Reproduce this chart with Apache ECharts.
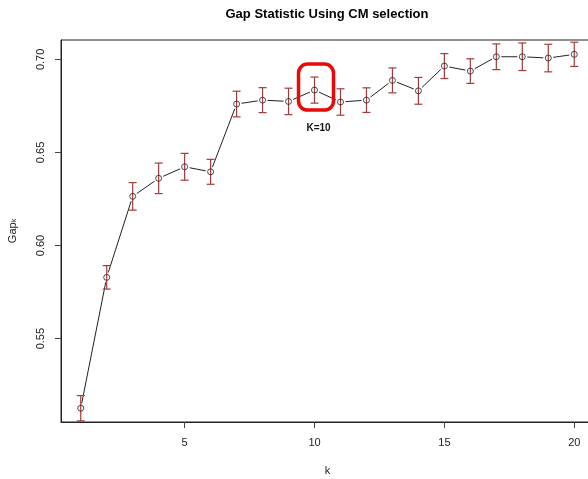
<!DOCTYPE html>
<html>
<head>
<meta charset="utf-8">
<script src="https://cdn.jsdelivr.net/npm/echarts@6/dist/echarts.min.js"></script>
<style>
  html, body { margin: 0; padding: 0; background: #fff; }
  #chart { width: 588px; height: 479px; }
</style>
</head>
<body>
<div id="chart"></div>
<script>
// Number of clusters k
const kValues = [1, 2, 3, 4, 5, 6, 7, 8, 9, 10, 11, 12, 13, 14, 15, 16, 17, 18, 19, 20];
// Gap statistic for each k
const gapValues = [0.5126, 0.5829, 0.6264, 0.6361, 0.6423, 0.6396, 0.6760, 0.6781, 0.6774, 0.6835,
                   0.6771, 0.6781, 0.6887, 0.6831, 0.6964, 0.6937, 0.7014, 0.7014, 0.7007, 0.7027];
// Standard error of the gap for each k
const gapSE = [0.0068, 0.0063, 0.0074, 0.0082, 0.0072, 0.0067, 0.0069, 0.0067, 0.0071, 0.0070,
               0.0071, 0.0066, 0.0067, 0.0072, 0.0067, 0.0066, 0.0069, 0.0074, 0.0074, 0.0065];
// Axis tick labels
const xTicks = [5, 10, 15, 20];
const yTicks = [0.55, 0.60, 0.65, 0.70];
// Selected number of clusters
const selectedK = 10;

const FONT = '"Liberation Sans", Arial, sans-serif';
const BAR_COLOR = '#a23b3b';
const LINE_COLOR = '#222';

const errData = kValues.map((k, i) => [k, gapValues[i] - gapSE[i], gapValues[i] + gapSE[i]]);
const pointData = kValues.map((k, i) => [k, gapValues[i]]);
const segData = kValues.slice(0, -1).map((k, i) => [k, gapValues[i], kValues[i + 1], gapValues[i + 1]]);
const selIdx = kValues.indexOf(selectedK);

const chart = echarts.init(document.getElementById('chart'), null, { renderer: 'canvas' });

chart.setOption({
  animation: false,
  backgroundColor: '#fff',
  graphic: [{
    type: 'text',
    x: 327, y: 14,
    style: {
      text: 'Gap Statistic Using CM selection',
      font: 'bold 13px ' + FONT,
      fill: '#000',
      textAlign: 'center',
      textVerticalAlign: 'middle'
    }
  }],
  grid: {
    left: 61, top: 40, right: -6, bottom: 57,
    outerBoundsMode: 'none',
    containLabel: false,
    show: true, borderColor: '#222', borderWidth: 1, backgroundColor: 'transparent'
  },
  xAxis: {
    type: 'value',
    min: 0.24, max: 20.76,
    name: 'k',
    nameLocation: 'middle',
    nameGap: 43,
    nameTextStyle: { fontFamily: FONT, fontSize: 11, color: '#222' },
    splitLine: { show: false },
    axisLine: { show: true, lineStyle: { color: '#222', width: 1 } },
    axisTick: { show: true, length: 6, lineStyle: { color: '#444' }, customValues: xTicks },
    axisLabel: {
      customValues: xTicks, margin: 15,
      fontFamily: FONT, fontSize: 11, color: '#222',
      formatter: v => String(v)
    }
  },
  yAxis: {
    type: 'value',
    min: 0.5052, max: 0.7104,
    name: '{g|Gap}{s|k}',
    nameLocation: 'middle',
    nameRotate: 90,
    nameGap: 43,
    nameTextStyle: {
      rich: {
        g: { fontFamily: FONT, fontSize: 11, color: '#222', lineHeight: 14, verticalAlign: 'bottom' },
        s: { fontFamily: FONT, fontSize: 7, color: '#222', lineHeight: 10, verticalAlign: 'bottom' }
      }
    },
    splitLine: { show: false },
    axisLine: { show: true, lineStyle: { color: '#222', width: 1 } },
    axisTick: { show: true, length: 6, lineStyle: { color: '#444' }, customValues: yTicks },
    axisLabel: {
      customValues: yTicks, margin: 15, rotate: 90,
      fontFamily: FONT, fontSize: 11, color: '#222',
      formatter: v => v.toFixed(2)
    }
  },
  series: [
    {
      // connecting line with small gaps around each point
      type: 'custom',
      silent: true,
      data: segData,
      renderItem: (params, api) => {
        const a = api.coord([api.value(0), api.value(1)]);
        const b = api.coord([api.value(2), api.value(3)]);
        const dx = b[0] - a[0], dy = b[1] - a[1];
        const len = Math.sqrt(dx * dx + dy * dy);
        const gap = 5;
        if (len <= 2 * gap) return null;
        const ux = dx / len, uy = dy / len;
        return {
          type: 'line',
          shape: { x1: a[0] + ux * gap, y1: a[1] + uy * gap, x2: b[0] - ux * gap, y2: b[1] - uy * gap },
          style: { stroke: LINE_COLOR, lineWidth: 1 }
        };
      }
    },
    {
      // error bars (gap +/- standard error)
      type: 'custom',
      silent: true,
      data: errData,
      renderItem: (params, api) => {
        const k = api.value(0);
        const lo = api.coord([k, api.value(1)]);
        const hi = api.coord([k, api.value(2)]);
        const cap = 4;
        const st = { stroke: BAR_COLOR, lineWidth: 1.2 };
        return {
          type: 'group',
          children: [
            { type: 'line', shape: { x1: lo[0], y1: lo[1], x2: hi[0], y2: hi[1] }, style: st },
            { type: 'line', shape: { x1: hi[0] - cap, y1: hi[1], x2: hi[0] + cap, y2: hi[1] }, style: st },
            { type: 'line', shape: { x1: lo[0] - cap, y1: lo[1], x2: lo[0] + cap, y2: lo[1] }, style: st }
          ]
        };
      }
    },
    {
      type: 'scatter',
      silent: true,
      data: pointData,
      symbol: 'circle',
      symbolSize: 6,
      itemStyle: { color: 'rgba(255,255,255,0)', borderColor: LINE_COLOR, borderWidth: 1 }
    },
    {
      // highlight of the selected k
      type: 'custom',
      silent: true,
      data: [[selectedK, gapValues[selIdx]]],
      renderItem: (params, api) => {
        const p = api.coord([api.value(0), api.value(1)]);
        return {
          type: 'group',
          children: [
            {
              type: 'rect',
              shape: { x: p[0] - 16, y: p[1] - 26, width: 35, height: 46, r: 9 },
              style: { fill: 'none', stroke: '#e8090b', lineWidth: 3.5 }
            },
            {
              type: 'text',
              x: p[0] + 4, y: p[1] + 38,
              style: {
                text: 'K=' + selectedK,
                font: 'bold 10px ' + FONT,
                fill: '#111',
                textAlign: 'center',
                textVerticalAlign: 'middle'
              }
            }
          ]
        };
      }
    }
  ]
});
</script>
</body>
</html>
